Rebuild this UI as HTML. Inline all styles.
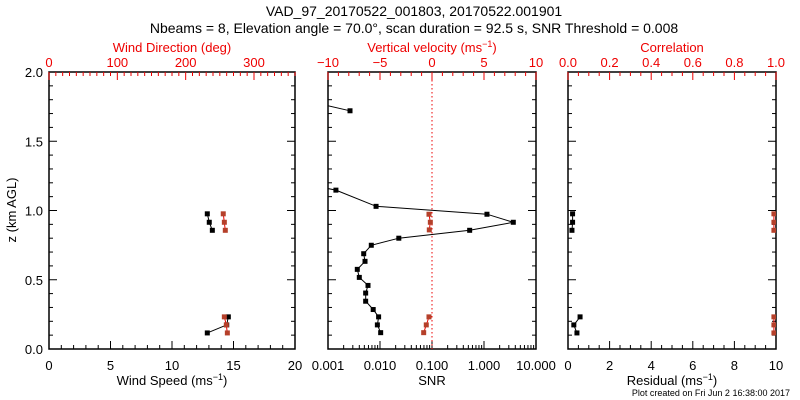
<!DOCTYPE html>
<html><head><meta charset="utf-8"><style>
html,body{margin:0;padding:0;background:#fff;}
svg{display:block;font-family:"Liberation Sans",sans-serif;}
</style></head><body>
<svg id="c" width="800" height="400" viewBox="0 0 800 400"></svg>
<script>
const heightsA = [0.976, 0.915, 0.857, 0.232, 0.174, 0.116];
const windSpeed = [12.87, 13.03, 13.28, 14.58, 14.45, 12.87];
const windDir = [255, 256.6, 258, 256.6, 259.5, 261];
const snrHeights = [1.77, 1.72, 1.17, 1.147, 1.03, 0.973, 0.915, 0.857, 0.80, 0.749, 0.688, 0.633, 0.575, 0.517, 0.459, 0.404, 0.345, 0.285, 0.232, 0.174, 0.118];
const snrValues = [0.0007, 0.00265, 0.0007, 0.00142, 0.0084, 1.14, 3.66, 0.53, 0.023, 0.0068, 0.00486, 0.00515, 0.00366, 0.0040, 0.00588, 0.0053, 0.0053, 0.0074, 0.0094, 0.0089, 0.0103];
const snrBreaks = [1, 2];
const wHeights = [0.973, 0.915, 0.86, 0.232, 0.174, 0.118];
const wValues = [-0.29, -0.16, -0.26, -0.29, -0.55, -0.8];
const resid = [0.22, 0.22, 0.19, 0.58, 0.28, 0.43];
const corr = [0.99, 0.99, 0.99, 0.99, 0.99, 0.99];
const speedTicks = ["0","5","10","15","20"];
const dirTicks = ["0","100","200","300"];
const snrTicks = ["0.001","0.010","0.100","1.000","10.000"];
const wTicks = ["−10","−5","0","5","10"];
const residTicks = ["0","2","4","6","8","10"];
const corrTicks = ["0.0","0.2","0.4","0.6","0.8","1.0"];
const zTicks = ["0.0","0.5","1.0","1.5","2.0"];

const NS="http://www.w3.org/2000/svg";
const svg=document.getElementById('c');
const TOP=72, BOT=349;
const yS=z=>BOT-(z/2)*(BOT-TOP);
const P1={l:49,r:295}, P2={l:328,r:536}, P3={l:568,r:776};
function lin(p,a,b){return v=>p.l+(v-a)/(b-a)*(p.r-p.l);}
function logs(p,a,b){return v=>p.l+(Math.log10(v)-a)/(b-a)*(p.r-p.l);}
const xSpeed=lin(P1,0,20), xDir=lin(P1,0,360), xSnr=logs(P2,-3,1), xW=lin(P2,-10,10), xRes=lin(P3,0,10), xCor=lin(P3,0,1);
function el(t,a,txt){const e=document.createElementNS(NS,t);for(const k in a)e.setAttribute(k,a[k]);if(txt!==undefined)e.textContent=txt;svg.appendChild(e);return e;}
function text(x,y,s,o){o=o||{};const e=el('text',{x:x,y:y,'font-size':o.size||13,fill:o.fill||'#000','text-anchor':o.anchor||'middle'},s);

return e;}
function tick(x1,y1,x2,y2,col){const e=el('line',{x1:x1,y1:y1,x2:x2,y2:y2,stroke:col||'#000','stroke-width':1});

}
function frame(p,name){const e=el('rect',{x:p.l,y:TOP,width:p.r-p.l,height:BOT-TOP,fill:'none',stroke:'#000','stroke-width':1.5});


for(let i=0;i<=20;i++){const y=yS(i/10);const L=i%5==0?8:4;tick(p.l,y,p.l+L,y);tick(p.r,y,p.r-L,y);}}
[[P1,'wind-panel'],[P2,'snr-panel'],[P3,'residual-panel']].forEach(a=>frame(a[0],a[1]));
// y labels
zTicks.forEach((t,i)=>text(43,yS(i*0.5)+5,t,{anchor:'end',name:'y-tick-label'}));
const yt=text(16,210,'z (km AGL)',{name:'y-axis-title'});yt.setAttribute('transform','rotate(-90 16 210)');
// left bottom
for(let v=0;v<=20;v++){const x=xSpeed(v);tick(x,BOT,x,BOT-(v%5==0?8:4));}
speedTicks.forEach(t=>text(xSpeed(+t),370,t,{name:'speed-tick-label'}));
// left top
for(let v=0;v<=360;v+=10){const x=xDir(v);tick(x,TOP,x,TOP+(v%100==0?8:4),'#e00');}
dirTicks.forEach(t=>text(xDir(+t),67,t,{fill:'#e00',name:'dir-tick-label'}));
text(172,52,'Wind Direction (deg)',{fill:'#e00',name:'top-axis-title-direction'});
const ws=text(172,385,'',{name:'x-axis-title-speed'});ws.innerHTML='Wind Speed (ms<tspan dy="-5" font-size="9">−1</tspan><tspan dy="5">)</tspan>';
// mid bottom log
for(let d=-3;d<=1;d++){for(let m=1;m<=9;m++){if(d==1&&m>1)break;const x=xSnr(m*Math.pow(10,d));tick(x,BOT,x,BOT-(m==1?8:4));}}
snrTicks.forEach((t,i)=>text(xSnr(Math.pow(10,i-3)),370,t,{name:'snr-tick-label'}));
text(432,385,'SNR',{name:'x-axis-title-snr'});
for(let v=-10;v<=10;v++){const x=xW(v);tick(x,TOP,x,TOP+(v%5==0?8:4),'#e00');}
wTicks.forEach((t,i)=>text(xW(-10+5*i),67,t,{fill:'#e00',name:'w-tick-label'}));
const vt=text(432,52,'',{fill:'#e00',name:'top-axis-title-velocity'});vt.innerHTML='Vertical velocity (ms<tspan dy="-5" font-size="9">−1</tspan><tspan dy="5">)</tspan>';
// zero line
{const x=xW(0);const e=el('line',{x1:x,y1:TOP,x2:x,y2:BOT,stroke:'#e00','stroke-dasharray':'1.5,2.5','stroke-width':1});

}
// right
for(let i=0;i<=20;i++){const v=i*0.5;const x=xRes(v);tick(x,BOT,x,BOT-(i%4==0?8:4));}
residTicks.forEach(t=>text(xRes(+t),370,t,{name:'residual-tick-label'}));
for(let i=0;i<=20;i++){const x=xCor(i*0.05);tick(x,TOP,x,TOP+(i%4==0?8:4),'#e00');}
corrTicks.forEach(t=>text(xCor(+t),67,t,{fill:'#e00',name:'corr-tick-label'}));
text(672,52,'Correlation',{fill:'#e00',name:'top-axis-title-correlation'});
const rt=text(672,385,'',{name:'x-axis-title-residual'});rt.innerHTML='Residual (ms<tspan dy="-5" font-size="9">−1</tspan><tspan dy="5">)</tspan>';
text(790,396,'Plot created on Fri Jun  2 16:38:00 2017',{size:9,anchor:'end',name:'plot-credit'});
text(414,16,'VAD_97_20170522_001803, 20170522.001901',{size:14,name:'chart-title'});
text(414,33,'Nbeams = 8, Elevation angle = 70.0°, scan duration = 92.5 s, SNR Threshold = 0.008',{size:14,name:'chart-subtitle'});
// clip
const defs=el('defs',{});
[['c1',P1],['c2',P2],['c3',P3]].forEach(a=>{const cp=document.createElementNS(NS,'clipPath');cp.setAttribute('id',a[0]);const r=document.createElementNS(NS,'rect');r.setAttribute('x',a[1].l);r.setAttribute('y',TOP);r.setAttribute('width',a[1].r-a[1].l);r.setAttribute('height',BOT-TOP);cp.appendChild(r);defs.appendChild(cp);});
function series(xs,ys,xf,col,name,clip,groups){
 const g=el('g',{'clip-path':'url(#'+clip+')'});
 
 
 groups.forEach(gr=>{const pts=gr.map(i=>xf(xs[i]).toFixed(1)+','+yS(ys[i]).toFixed(1)).join(' ');
  const pl=document.createElementNS(NS,'polyline');pl.setAttribute('points',pts);pl.setAttribute('fill','none');pl.setAttribute('stroke',col==='#000'?'#000':'#e00');pl.setAttribute('stroke-width','1');
  
  
  g.appendChild(pl);});
 xs.forEach((v,i)=>{const r=document.createElementNS(NS,'rect');r.setAttribute('x',xf(v)-2.5);r.setAttribute('y',yS(ys[i])-2.5);r.setAttribute('width',5);r.setAttribute('height',5);r.setAttribute('fill',col);
  
  
  g.appendChild(r);});
}
series(windSpeed,heightsA,xSpeed,'#000','wind-speed','c1',[[0,1,2],[3,4,5]]);
series(windDir,heightsA,xDir,'#b5402a','wind-direction','c1',[[0,1,2],[3,4,5]]);
const snrIdx=snrValues.map((v,i)=>i);
series(snrValues,snrHeights,xSnr,'#000','snr','c2',[[0,1],[2,3],snrIdx.slice(3)]);
series(wValues,wHeights,xW,'#b5402a','vertical-velocity','c2',[[0,1,2],[3,4,5]]);
series(resid,heightsA,xRes,'#000','residual','c3',[[0,1,2],[3,4,5]]);
series(corr,heightsA,xCor,'#b5402a','correlation','c3',[[0,1,2],[3,4,5]]);
</script>
</body></html>
